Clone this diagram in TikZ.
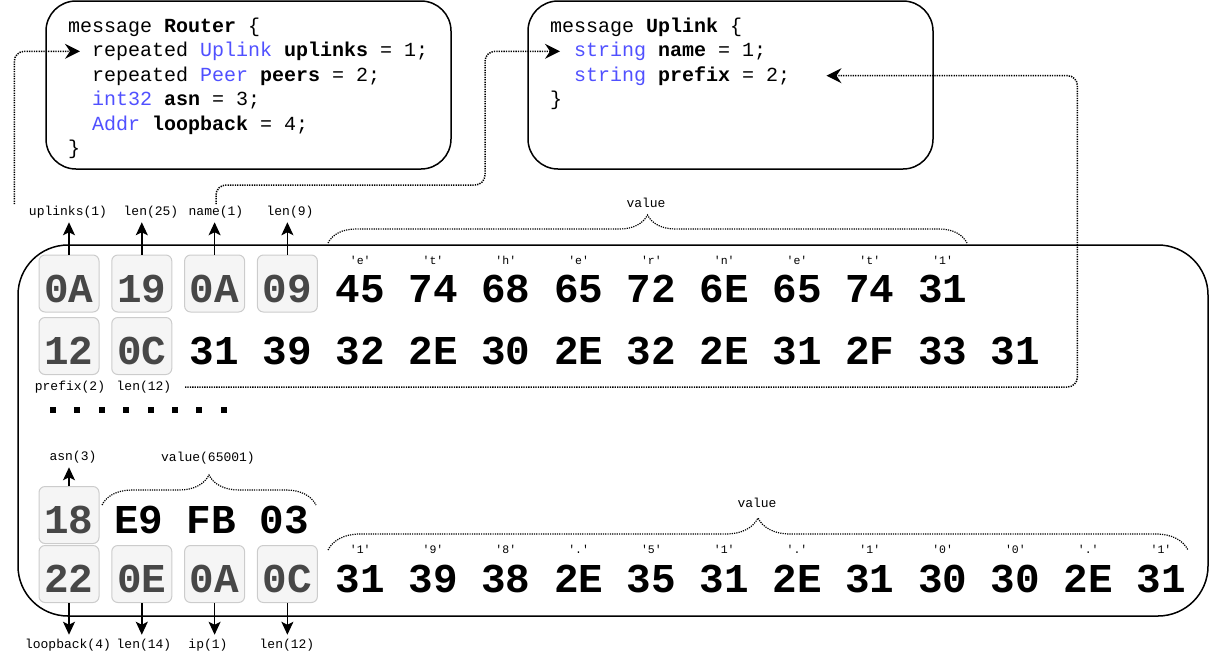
\documentclass[tikz,border=0pt]{standalone}
\usepackage{fontspec}
\setmonofont{Liberation Mono}
\usepackage{xcolor}
\definecolor{kw}{RGB}{80,80,255}
\usetikzlibrary{positioning, calc, arrows.meta, decorations.pathreplacing}
\tikzstyle{Arrow} = [line width=1.5pt, shorten >=2.5pt,
-{Stealth[length=13pt, width=12pt, inset=3pt]}]
\tikzstyle{Link} = [line width=1.5pt, dash pattern=on 1.3pt off 1.1pt, rounded corners=10pt,
-{Stealth[length=15pt, width=15pt, inset=5pt]}]
\tikzstyle{Brace} = [line width=1.2pt, dash pattern=on 1.2pt off 1.1pt, decorate]
\tikzstyle{Message} = [draw, line width=1.5pt, rounded corners=30pt,
minimum width=405pt, minimum height=168pt]
\tikzstyle{Code} = [anchor=base west, inner sep=0pt, font=\ttfamily\fontsize{20}{24}\selectfont]
\tikzstyle{Byte} = [inner sep=0pt, minimum width=60pt, minimum height=57pt,
text height=37pt, text depth=0pt, font=\ttfamily\bfseries\fontsize{41}{41}\selectfont]
\tikzstyle{Tag} = [Byte, draw=black!20, fill=black!4, rounded corners=6pt,
line width=1pt, text=black!72]
\tikzstyle{Label} = [inner sep=1.5pt, font=\ttfamily\fontsize{13}{13}\selectfont]
\tikzstyle{Char} = [inner sep=0pt, font=\ttfamily\fontsize{11.5}{12}\selectfont]

\begin{document}
\begin{tikzpicture}[x=1pt, y=-1pt]
    \useasboundingbox (0,0) rectangle (1209,654);

    % proto messages
    \node[Message] (router) at (248.5,85) {};
    \node[Message] (uplink) at (730.5,85) {};
    \node[Code] (rt0) at (68,32) {message \textbf{Router} \{};
    \node[Code] (rt1) at (92,56.5) {repeated \textcolor{kw}{Uplink} \textbf{uplinks} = 1;};
    \node[Code] (rt2) at (92,81) {repeated \textcolor{kw}{Peer} \textbf{peers} = 2;};
    \node[Code] (rt3) at (92,105.5) {\textcolor{kw}{int32} \textbf{asn} = 3;};
    \node[Code] (rt4) at (92,130) {\textcolor{kw}{Addr} \textbf{loopback} = 4;};
    \node[Code] (rt5) at (68,154) {\}};
    \node[Code] (up0) at (550,32) {message \textbf{Uplink} \{};
    \node[Code] (up1) at (574,56.5) {\textcolor{kw}{string} \textbf{name} = 1;};
    \node[Code] (up2) at (574,81) {\textcolor{kw}{string} \textbf{prefix} = 2;};
    \node[Code] (up3) at (550,105.5) {\}};

    % wire bytes
    \node[draw, line width=1.5pt, rounded corners=50pt, minimum width=1190pt,
        minimum height=371pt] (frame) at (613,430.5) {};

    \foreach \b [count=\i from 0] in {0A,19,0A,09}
        \node[Tag] (a-\i) at ({69+72.8*\i},283.5) {\b};
    \foreach \b/\c [count=\i from 4] in {45/e,74/t,68/h,65/e,72/r,6E/n,65/e,74/t,31/1}
    {
        \node[Byte] (a-\i) at ({69+72.8*\i},283.5) {\b};
        \node[Char, below=1pt of a-\i.north] {'\c'};
    }
    \foreach \b [count=\i from 0] in {12,0C}
        \node[Tag] (b-\i) at ({69+72.8*\i},346) {\b};
    \foreach \b [count=\i from 2] in {31,39,32,2E,30,2E,32,2E,31,2F,33,31}
        \node[Byte] (b-\i) at ({69+72.8*\i},346) {\b};

    % more fields left out
    \foreach \i in {0,...,7}
        \fill ({50+24.4*\i},407) rectangle ++(6,6);

    \node[Tag] (c-0) at (69,515) {18};
    \foreach \b [count=\i] in {E9,FB,03}
        \node[Byte] (c-\i) at ({66+72.8*\i},515) {\b};
    \foreach \b [count=\i from 0] in {22,0E,0A,0C}
        \node[Tag] (d-\i) at ({69+72.8*\i},574) {\b};
    \foreach \b/\c [count=\i from 4] in {31/1,39/9,38/8,2E/.,35/5,31/1,2E/.,31/1,30/0,30/0,2E/.,31/1}
    {
        \node[Byte] (d-\i) at ({69+72.8*\i},574) {\b};
        \node[Char, below=0pt of d-\i.north] {'\c'};
    }

    % field labels
    \node[Label] (l1) at (68,212) {uplinks(1)};
    \node[Label] (l2) at (151,212) {len(25)};
    \node[Label] (l3) at (216,212) {name(1)};
    \node[Label] (l4) at (290,212) {len(9)};
    \node[Label] (l5) at (70,387) {prefix(2)};
    \node[Label] (l6) at (144,387) {len(12)};
    \node[Label] (l7) at (73,457) {asn(3)};
    \node[Label] (l8) at (68,645) {loopback(4)};
    \node[Label] (l9) at (144,645) {len(14)};
    \node[Label] (l10) at (208,645) {ip(1)};
    \node[Label] (l11) at (287,645) {len(12)};
    \node[Label] (v1) at (646,203) {value};
    \node[Label] (v2) at (208,458) {value(65001)};
    \node[Label] (v3) at (757,503) {value};

    \foreach \i/\l in {0/l1,1/l2,2/l3,3/l4}
        \draw[Arrow] (a-\i.north) -- (a-\i.north |- \l.south);
    \draw[Arrow] (c-0.north) -- (c-0.north |- l7.south);
    \foreach \i/\l in {0/l8,1/l9,2/l10,3/l11}
        \draw[Arrow] (d-\i.south) -- (d-\i.south |- \l.north);

    % value braces
    \draw[Brace, decoration={brace, amplitude=28pt}] (328,243) -- (967,243);
    \draw[Brace, decoration={brace, amplitude=30pt}] (102,505) -- (316,505);
    \draw[Brace, decoration={brace, amplitude=32pt}] (328,550) -- (1188,550);

    % back to the schema
    \draw[Link] ([xshift=-13pt]l1.north west) |- ([xshift=-12pt]rt1.west);
    \draw[Link] (l3.north) |- (485,185) |- ([xshift=-14pt]up1.west);
    \draw[Link] ([xshift=12pt]l6.east) -| ($(up2.east)+(287,0)$) -- ([xshift=36pt]up2.east);
\end{tikzpicture}
\end{document}
